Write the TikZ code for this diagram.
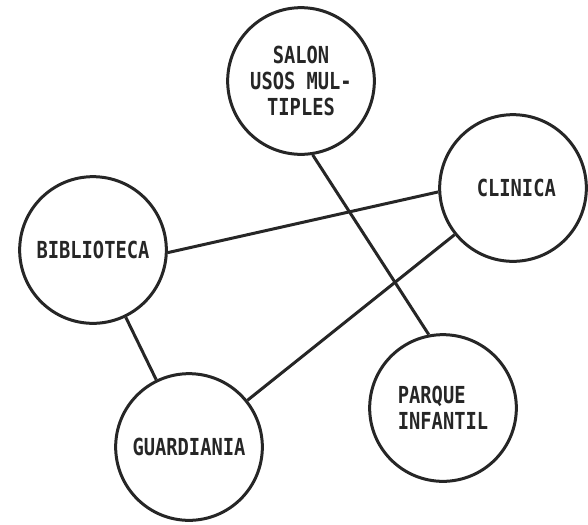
\documentclass[tikz,border=0pt]{standalone}
\usepackage{fontspec}
\newfontfamily\dotfont[FakeStretch=0.8]{DejaVu Sans Mono Bold}
\usepackage{tikz}

\tikzset{
  area/.style={circle,draw=black!85,line width=0.09cm,minimum size=4.4cm,inner sep=0pt,
    font=\dotfont\fontsize{20}{22}\selectfont,text=black!85},
  link/.style={draw=black!85,line width=0.09cm}
}

\begin{document}
\begin{tikzpicture}[x=0.03cm,y=-0.03cm]
\useasboundingbox (0,0) rectangle (588,524);
% areas
\node[area,align=center] (salon) at (301,81) {SALON\\USOS MUL-\\TIPLES};
\node[area] (clinica) at (513,188) {\hspace*{0.2cm}CLINICA};
\node[area] (biblio) at (93,250) {BIBLIOTECA};
\node[area,align=left] (parque) at (443,408) {PARQUE\\INFANTIL};
\node[area] (guardia) at (189,447) {GUARDIANIA};
% connections
\draw[link] (biblio.-2) -- (clinica.183);
\draw[link] (biblio) -- (guardia);
\draw[link] (guardia) -- (clinica);
\draw[link] (salon.-81) -- (parque.101);
\end{tikzpicture}
\end{document}
